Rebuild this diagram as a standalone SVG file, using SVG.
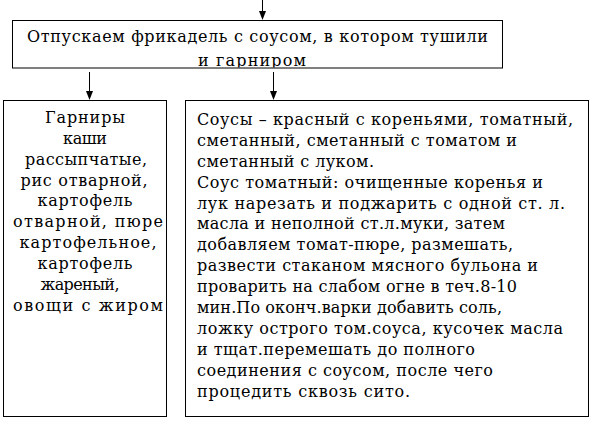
<svg xmlns="http://www.w3.org/2000/svg" width="591" height="421" viewBox="0 0 591 421">
<style>
.box{fill:#fff;stroke:#000;stroke-width:1}
.t{font-family:'DejaVu Serif','Liberation Serif',serif;font-size:16px;fill:#000}
.c{text-anchor:middle}
.ln{stroke:#000;stroke-width:1;fill:none}
</style>
<defs>
<clipPath id="topclip"><rect x="13" y="21" width="489" height="46.5"/></clipPath>
</defs>
<rect width="591" height="421" fill="#fff"/>
<g id="connectors">
<line class="ln" x1="262.5" y1="0" x2="262.5" y2="11"/>
<path d="M259,11 L266,11 L262.5,20 Z" fill="#000"/>
<line class="ln" x1="89.5" y1="72" x2="89.5" y2="91"/>
<path d="M86,91 L93,91 L89.5,100 Z" fill="#000"/>
<line class="ln" x1="273.5" y1="72" x2="273.5" y2="91"/>
<path d="M270,91 L277,91 L273.5,100 Z" fill="#000"/>
</g>
<g id="node-top">
<rect class="box" x="12.5" y="20.5" width="490" height="47.5"/>
<g clip-path="url(#topclip)">
<text class="t c" x="257.5" y="42" textLength="461" lengthAdjust="spacing">Отпускаем фрикадель с соусом, в котором тушили</text>
<text class="t c" x="252" y="66" textLength="108" lengthAdjust="spacing">и гарниром</text>
</g>
</g>
<g id="node-garnish">
<rect class="box" x="3.5" y="100.5" width="163" height="316"/>
<text class="t c" x="85" y="123" textLength="80" lengthAdjust="spacing">Гарниры</text>
<text class="t c" x="85" y="144" textLength="44" lengthAdjust="spacing">каши</text>
<text class="t c" x="86" y="165" textLength="122" lengthAdjust="spacing">рассыпчатые,</text>
<text class="t c" x="84" y="186" textLength="127" lengthAdjust="spacing">рис отварной,</text>
<text class="t c" x="85" y="206" textLength="95" lengthAdjust="spacing">картофель</text>
<text class="t c" x="88" y="227" textLength="150" lengthAdjust="spacing">отварной, пюре</text>
<text class="t c" x="88" y="248" textLength="137" lengthAdjust="spacing">картофельное,</text>
<text class="t c" x="85" y="269" textLength="95" lengthAdjust="spacing">картофель</text>
<text class="t c" x="80" y="290" textLength="79" lengthAdjust="spacing">жареный,</text>
<text class="t c" x="88" y="311" textLength="150" lengthAdjust="spacing">овощи с жиром</text>
</g>
<g id="node-sauces">
<rect class="box" x="185.5" y="100.5" width="403" height="316"/>
<text class="t" x="197" y="125" textLength="376" lengthAdjust="spacing">Соусы – красный с кореньями, томатный,</text>
<text class="t" x="197" y="146" textLength="320" lengthAdjust="spacing">сметанный, сметанный с томатом и</text>
<text class="t" x="197" y="167" textLength="177" lengthAdjust="spacing">сметанный с луком.</text>
<text class="t" x="197" y="188" textLength="346" lengthAdjust="spacing">Соус томатный: очищенные коренья и</text>
<text class="t" x="197" y="209" textLength="368" lengthAdjust="spacing">лук нарезать и поджарить с одной ст. л.</text>
<text class="t" x="197" y="229" textLength="308" lengthAdjust="spacing">масла и неполной ст.л.муки, затем</text>
<text class="t" x="197" y="250" textLength="316" lengthAdjust="spacing">добавляем томат-пюре, размешать,</text>
<text class="t" x="197" y="271" textLength="341" lengthAdjust="spacing">развести стаканом мясного бульона и</text>
<text class="t" x="197" y="292" textLength="320" lengthAdjust="spacing">проварить на слабом огне в теч.8-10</text>
<text class="t" x="197" y="313" textLength="305" lengthAdjust="spacing">мин.По оконч.варки добавить соль,</text>
<text class="t" x="197" y="334" textLength="366" lengthAdjust="spacing">ложку острого том.соуса, кусочек масла</text>
<text class="t" x="197" y="355" textLength="278" lengthAdjust="spacing">и тщат.перемешать до полного</text>
<text class="t" x="197" y="376" textLength="296" lengthAdjust="spacing">соединения с соусом, после чего</text>
<text class="t" x="197" y="397" textLength="213" lengthAdjust="spacing">процедить сквозь сито.</text>
</g>
</svg>
